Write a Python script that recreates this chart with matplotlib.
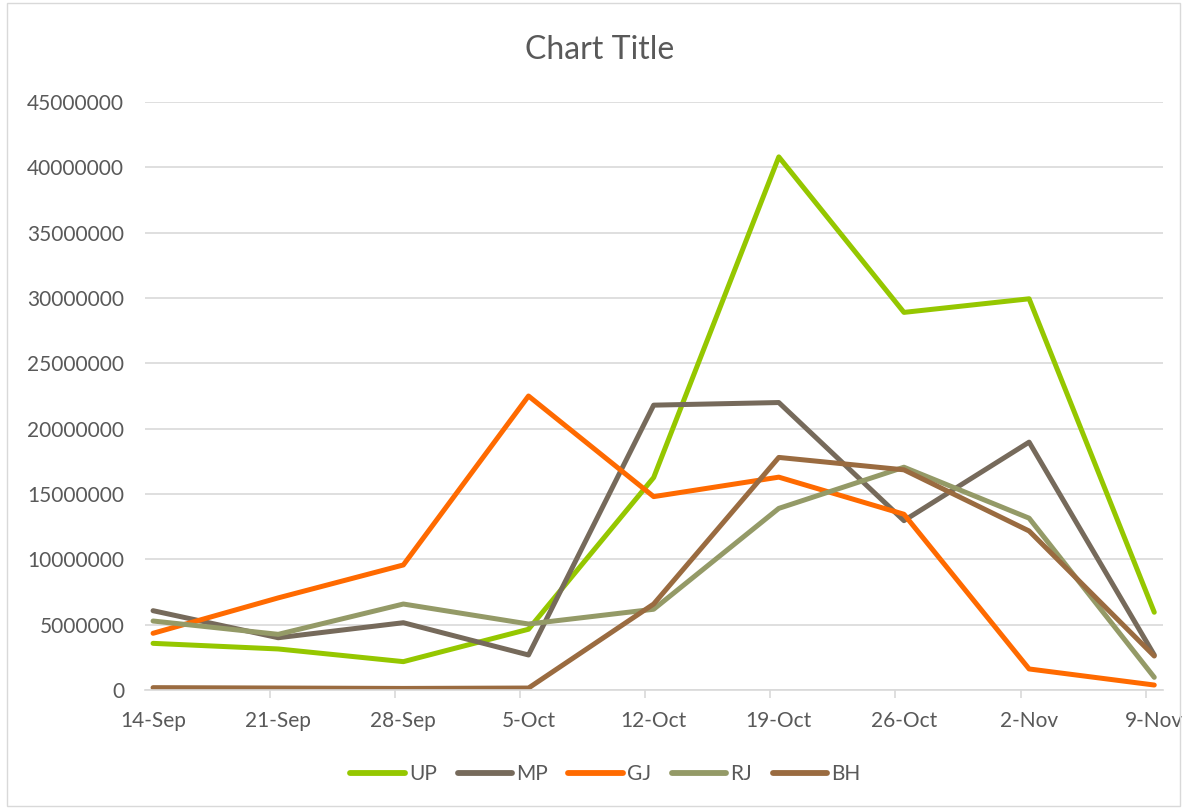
import matplotlib.pyplot as plt
from matplotlib.patches import Rectangle
from matplotlib.ticker import FixedLocator

plt.rcParams["font.family"] = ["Lato", "DejaVu Sans"]

dates = ["14-Sep", "21-Sep", "28-Sep", "5-Oct", "12-Oct", "19-Oct", "26-Oct", "2-Nov", "9-Nov"]
up = [3570000, 3140000, 2170000, 4650000, 16260000, 40800000, 28900000, 29940000, 5950000]
mp = [6070000, 4000000, 5150000, 2680000, 21800000, 22000000, 12960000, 18970000, 2680000]
gj = [4340000, 7050000, 9570000, 22500000, 14800000, 16290000, 13450000, 1610000, 380000]
rj = [5280000, 4260000, 6580000, 5050000, 6180000, 13900000, 17050000, 13150000, 970000]
bh = [180000, 150000, 120000, 150000, 6580000, 17800000, 16850000, 12170000, 2600000]

series = [
    ("UP", up, "#95c700"),
    ("MP", mp, "#766a5b"),
    ("GJ", gj, "#ff6a00"),
    ("RJ", rj, "#949a67"),
    ("BH", bh, "#9a6b40"),
]

text_col = "#595959"
grid_col = "#d9d9d9"

fig = plt.figure(figsize=(11.87, 8.09), dpi=100)
fig.patches.append(Rectangle((0.006, 0.004), 0.988, 0.992, transform=fig.transFigure,
                             fill=False, edgecolor=grid_col, linewidth=1))
ax = fig.add_axes([0.1222, 0.1471, 0.8576, 0.7268])

x = list(range(len(dates)))
for name, vals, col in series:
    ax.plot(x, vals, color=col, linewidth=3.6, label=name,
            solid_capstyle="round", solid_joinstyle="round")

ax.set_ylim(0, 45000000)
ax.set_xlim(-0.064, 8.07)
ax.set_yticks(range(0, 45000001, 5000000))
ax.yaxis.set_major_formatter(plt.FuncFormatter(lambda v, p: f"{int(v)}"))
ax.set_xticks(x)
ax.set_xticklabels(dates)
ax.xaxis.set_minor_locator(FixedLocator([i - 0.068 for i in x]))

ax.grid(axis="y", color=grid_col, linewidth=1.2)
ax.set_axisbelow(True)
for s in ["top", "right", "left"]:
    ax.spines[s].set_visible(False)
ax.spines["bottom"].set_color(grid_col)
ax.spines["bottom"].set_linewidth(1.2)

ax.tick_params(axis="y", length=0, labelsize=15, labelcolor=text_col, pad=15)
ax.tick_params(axis="x", which="major", length=0, labelsize=15, labelcolor=text_col, pad=15)
ax.tick_params(axis="x", which="minor", length=6, color=grid_col, width=1.2)

fig.text(0.505, 0.938, "Chart Title", ha="center", va="center", fontsize=23, color=text_col)

leg = ax.legend(loc="center", bbox_to_anchor=(0.51, 0.043), bbox_transform=fig.transFigure,
                ncol=5, frameon=False, fontsize=15, labelcolor=text_col,
                handlelength=2.6, handletextpad=0.2, columnspacing=1.0)
for h in leg.get_lines():
    h.set_linewidth(4.2)

fig.savefig("out.png", dpi=100)
plt.close(fig)
